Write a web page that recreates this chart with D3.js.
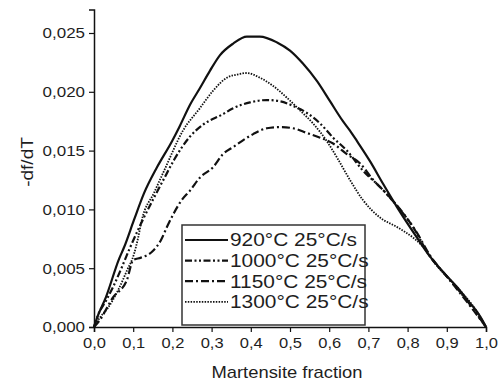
<!DOCTYPE html>
<html><head><meta charset="utf-8">
<script src="https://cdn.jsdelivr.net/npm/d3@7"></script>
<style>
body{margin:0;background:#fff}
svg{display:block;background:#fff}
text{font-family:"Liberation Sans",Arial,sans-serif;fill:#1e1e1e}
</style>
</head><body>
<svg id="chart" width="499" height="382"></svg>
<script>
// ---- data ----
const x920 = [0, 0.008, 0.03, 0.064, 0.077, 0.102, 0.128, 0.161, 0.199, 0.219, 0.245, 0.270, 0.296, 0.321, 0.355, 0.390, 0.423, 0.467, 0.500, 0.533, 0.569, 0.602, 0.635, 0.653, 0.671, 0.704, 0.737, 0.773, 0.824, 0.857, 0.89, 0.926, 0.955, 0.977, 0.992, 1.0];
const y920 = [0, 0.0008, 0.0025, 0.0058, 0.0068, 0.0091, 0.0114, 0.0136, 0.0158, 0.0171, 0.0189, 0.0203, 0.0218, 0.0231, 0.0241, 0.0247, 0.0247, 0.0242, 0.0235, 0.0224, 0.0209, 0.0192, 0.0175, 0.0167, 0.0158, 0.0141, 0.0122, 0.0102, 0.0076, 0.0060, 0.0047, 0.0034, 0.0022, 0.0013, 0.0005, 0];

const x1000 = [0, 0.01, 0.03, 0.05, 0.07, 0.09, 0.12, 0.15, 0.18, 0.204, 0.245, 0.278, 0.329, 0.355, 0.398, 0.441, 0.474, 0.508, 0.543, 0.577, 0.61, 0.645, 0.686, 0.73, 0.773, 0.814, 0.857, 0.9, 0.95, 1.0];
const y1000 = [0, 0.0010, 0.0022, 0.0035, 0.0050, 0.0066, 0.0088, 0.0108, 0.0127, 0.0142, 0.0162, 0.0172, 0.0181, 0.0186, 0.0191, 0.0193, 0.0192, 0.0188, 0.0182, 0.0173, 0.0161, 0.0150, 0.0133, 0.0119, 0.0103, 0.0085, 0.0060, 0.0043, 0.0023, 0];

const x1150 = [0, 0.015, 0.048, 0.084, 0.1, 0.12, 0.148, 0.171, 0.186, 0.204, 0.224, 0.245, 0.27, 0.304, 0.329, 0.355, 0.406, 0.441, 0.474, 0.508, 0.543, 0.577, 0.61, 0.645, 0.679, 0.71, 0.75, 0.786, 0.824, 0.857, 0.9, 0.95, 1.0];
const y1150 = [0, 0.0006, 0.0025, 0.0040, 0.0057, 0.0059, 0.0064, 0.0074, 0.0085, 0.0097, 0.0108, 0.0116, 0.0127, 0.0136, 0.0147, 0.0153, 0.0164, 0.0169, 0.0170, 0.0169, 0.0165, 0.0161, 0.0156, 0.0147, 0.0139, 0.0126, 0.0112, 0.0098, 0.0080, 0.0061, 0.0043, 0.0022, 0];

const x1300 = [0, 0.015, 0.035, 0.064, 0.084, 0.102, 0.112, 0.122, 0.153, 0.179, 0.227, 0.27, 0.304, 0.339, 0.37, 0.39, 0.423, 0.457, 0.492, 0.526, 0.559, 0.594, 0.62, 0.653, 0.686, 0.73, 0.773, 0.814, 0.84, 0.87, 0.926, 0.977, 1.0];
const y1300 = [0, 0.0008, 0.0016, 0.0033, 0.0048, 0.0062, 0.0075, 0.0091, 0.0114, 0.0133, 0.0167, 0.0186, 0.0201, 0.0212, 0.0215, 0.0216, 0.0212, 0.0205, 0.0195, 0.0184, 0.0173, 0.0158, 0.0144, 0.0125, 0.0108, 0.0093, 0.0085, 0.0076, 0.0068, 0.0054, 0.0034, 0.0013, 0];

const seriesLabels = ["920°C 25°C/s", "1000°C 25°C/s", "1150°C 25°C/s", "1300°C 25°C/s"];
const xTicks = [0, 0.1, 0.2, 0.3, 0.4, 0.5, 0.6, 0.7, 0.8, 0.9, 1.0];
const yTicks = [0, 0.005, 0.010, 0.015, 0.020, 0.025];
const xTitle = "Martensite fraction";
const yTitle = "-df/dT";

// ---- build ----
const series = [
  {label: seriesLabels[0], xs: x920, ys: y920, dash: null, w: 2.2},
  {label: seriesLabels[1], xs: x1000, ys: y1000, dash: "7,2.5,2,2.5,2,2.5", w: 2.2},
  {label: seriesLabels[2], xs: x1150, ys: y1150, dash: "8,3,2,3", w: 2.2},
  {label: seriesLabels[3], xs: x1300, ys: y1300, dash: "1.5,1.3", w: 1.8}
];

const svg = d3.select("#chart");
const x = d3.scaleLinear().domain([0, 1]).range([94, 486]);
const y = d3.scaleLinear().domain([0, 0.027]).range([327, 327 - 0.027 * 11760]);

function stretch(sel, k) {
  sel.each(function() {
    const w = this.getComputedTextLength();
    d3.select(this).attr("textLength", w * k).attr("lengthAdjust", "spacingAndGlyphs");
  });
}

// minor ticks
const xMinor = d3.range(0.05, 1, 0.1);
const yMinor = d3.range(0.0025, 0.027, 0.005);

const gx = svg.append("g").attr("transform", "translate(0,327)");
gx.call(d3.axisBottom(x).tickValues(xMinor).tickSize(3).tickFormat(""));
gx.call(d3.axisBottom(x).tickValues(xTicks).tickSize(5).tickPadding(5)
  .tickFormat(d => d3.format(".1f")(d).replace(".", ",")));
gx.selectAll(".domain").attr("stroke", "#111").attr("stroke-width", 1.5);
gx.selectAll(".tick line").attr("stroke", "#111").attr("stroke-width", 1.2);
gx.selectAll(".tick text").attr("font-size", 15).attr("y", 10).attr("dy", "0.71em")
  .attr("font-family", '"Liberation Sans",Arial,sans-serif').attr("fill", "#1e1e1e");
stretch(gx.selectAll(".tick text"), 1.1);

const gy = svg.append("g").attr("transform", "translate(94,0)");
gy.call(d3.axisLeft(y).tickValues(yMinor).tickSize(3).tickFormat(""));
gy.call(d3.axisLeft(y).tickValues(yTicks).tickSize(5).tickPadding(4)
  .tickFormat(d => d3.format(".3f")(d).replace(".", ",")));
gy.selectAll(".domain").attr("stroke", "#111").attr("stroke-width", 1.5);
gy.selectAll(".tick line").attr("stroke", "#111").attr("stroke-width", 1.2);
gy.selectAll(".tick text").attr("font-size", 15)
  .attr("font-family", '"Liberation Sans",Arial,sans-serif').attr("fill", "#1e1e1e");
stretch(gy.selectAll(".tick text"), 1.13);

// axis titles
const tx = svg.append("text").attr("x", 287).attr("y", 378).attr("text-anchor", "middle")
  .attr("font-size", 17).text(xTitle);
stretch(tx, 1.08);
const ty = svg.append("text").attr("transform", "translate(33,162) rotate(-90)")
  .attr("text-anchor", "middle").attr("font-size", 17).text(yTitle);
stretch(ty, 1.12);

// curves
const line = d3.line().x(d => x(d[0])).y(d => y(d[1])).curve(d3.curveMonotoneX);
series.forEach(s => {
  const pts = s.xs.map((v, i) => [v, s.ys[i]]);
  svg.append("path").datum(pts).attr("d", line)
    .attr("fill", "none").attr("stroke", "#111").attr("stroke-width", s.w)
    .attr("stroke-dasharray", s.dash).attr("stroke-linejoin", "round");
});

// legend
const lg = svg.append("g");
lg.append("rect").attr("x", 182).attr("y", 225).attr("width", 183).attr("height", 100)
  .attr("fill", "#fff").attr("stroke", "#333").attr("stroke-width", 1.5);
series.forEach((s, i) => {
  const yy = 240 + i * 20.6;
  lg.append("line").attr("x1", 185).attr("x2", 228).attr("y1", yy).attr("y2", yy)
    .attr("stroke", "#111").attr("stroke-width", s.w).attr("stroke-dasharray", s.dash);
  const t = lg.append("text").attr("x", 230).attr("y", yy).attr("dy", "0.36em")
    .attr("font-size", 18).text(s.label);
  stretch(t, 1.16);
});
</script>
</body></html>
